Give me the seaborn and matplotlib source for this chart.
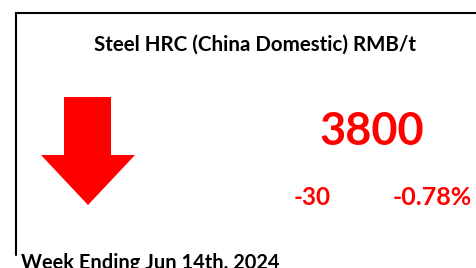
import matplotlib
matplotlib.use("Agg")
import seaborn as sns
import matplotlib.pyplot as plt

sns.set_theme(style="white")
plt.rcParams['font.family'] = ['Lato', 'DejaVu Sans']

# KPI card data
title = "Steel HRC (China Domestic) RMB/t"
price = 3800
change = -30
change_pct = -0.78
week_label = "Week Ending Jun 14th, 2024"

red = "#FF0000"

fig = plt.figure(figsize=(4.76, 2.68), dpi=100)
ax = fig.add_axes([0, 0, 1, 1])
ax.set_xlim(0, 476)
ax.set_ylim(268, 0)
ax.axis("off")

# card border (runs off the right and bottom edges)
ax.plot([16, 16, 480], [255, 13, 13], color="black", lw=1.5, solid_joinstyle="miter")

# down arrow
arrow_x = [64, 111, 111, 135, 88, 41, 64, 64]
arrow_y = [97, 97, 155, 155, 205, 155, 155, 97]
ax.fill(arrow_x, arrow_y, color=red, lw=0)

ax.text(255, 51, title, ha="center", va="baseline", fontsize=14.8, fontweight="bold", color="black")
ax.text(372, 145, f"{price}", ha="center", va="baseline", fontsize=32.5, fontweight="bold", color=red)
ax.text(312, 205, f"{change}", ha="center", va="baseline", fontsize=17.5, fontweight="bold", color=red)
ax.text(432, 205, f"{change_pct:.2f}%", ha="center", va="baseline", fontsize=18, fontweight="bold", color=red)
ax.text(21, 269, week_label, ha="left", va="baseline", fontsize=14.4, fontweight="bold", color="black")

fig.savefig("out.png", dpi=100)
